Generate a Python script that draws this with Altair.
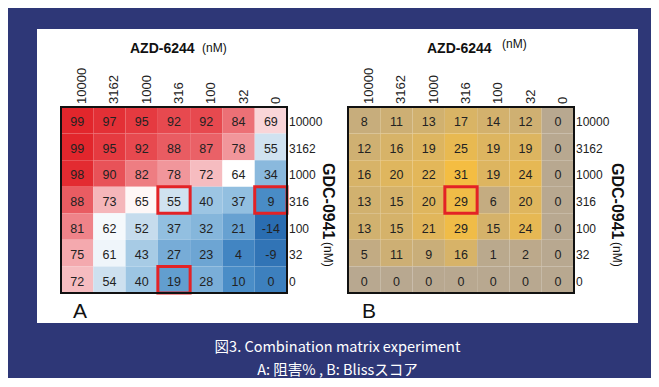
import altair as alt
import pandas as pd

# ---- data ----
azd_doses = ["10000", "3162", "1000", "316", "100", "32", "0"]   # columns (AZD-6244, nM)
gdc_doses = ["10000", "3162", "1000", "316", "100", "32", "0"]   # rows (GDC-0941, nM)

inhibition = [
    [99, 97, 95, 92, 92, 84, 69],
    [99, 95, 92, 88, 87, 78, 55],
    [98, 90, 82, 78, 72, 64, 34],
    [88, 73, 65, 55, 40, 37, 9],
    [81, 62, 52, 37, 32, 21, -14],
    [75, 61, 43, 27, 23, 4, -9],
    [72, 54, 40, 19, 28, 10, 0],
]
bliss = [
    [8, 11, 13, 17, 14, 12, 0],
    [12, 16, 19, 25, 19, 19, 0],
    [16, 20, 22, 31, 19, 24, 0],
    [13, 15, 20, 29, 6, 20, 0],
    [13, 15, 21, 29, 15, 24, 0],
    [5, 11, 9, 16, 1, 2, 0],
    [0, 0, 0, 0, 0, 0, 0],
]
highlight_a = [("316", "316"), ("0", "316"), ("316", "0")]   # (column, row)
highlight_b = [("316", "316")]

x_title = ["AZD-6244", "(nM)"]
y_title = ["GDC-0941", "(nM)"]
panel_letters = ["A", "B"]
caption = ["図3. Combination matrix experiment", "A: 阻害% , B: Blissスコア"]

NAVY = "#2e3777"
FONT = "Liberation Sans"
GRID_TOP, GRID_BOTTOM = 78, 264
PANEL_H = 294


def panel(values, highlights, color_scale, width, x0, x1, letter, letter_x,
          title_x, nm_x, nm_y, right_x):
    df = pd.DataFrame([
        {"col": c, "row": r, "v": values[i][j], "label": str(values[i][j])}
        for i, r in enumerate(gdc_doses) for j, c in enumerate(azd_doses)
    ])
    hl = pd.DataFrame([{"col": c, "row": r} for c, r in highlights])
    xs = alt.X("col:N", sort=azd_doses, axis=None,
               scale=alt.Scale(domain=azd_doses, range=[x0, x1],
                               paddingInner=0, paddingOuter=0))
    ys = alt.Y("row:N", sort=gdc_doses, axis=None,
               scale=alt.Scale(domain=gdc_doses, range=[GRID_TOP, GRID_BOTTOM],
                               paddingInner=0, paddingOuter=0))

    cells = alt.Chart(df).mark_rect().encode(
        x=xs, y=ys, color=alt.Color("v:Q", scale=color_scale, legend=None))
    nums = alt.Chart(df).mark_text(font=FONT, fontSize=12.5, color="#222222", dy=2).encode(
        x=xs, y=ys, text="label:N")
    frame = alt.Chart(df).mark_rect(filled=False, stroke="#111111", strokeWidth=2).encode(
        x=alt.value(x0), x2=alt.value(x1), y=alt.value(GRID_TOP), y2=alt.value(GRID_BOTTOM))
    boxes = alt.Chart(hl).mark_rect(filled=False, stroke="#e32226", strokeWidth=3).encode(
        x=xs, y=ys)
    col_lab = alt.Chart(pd.DataFrame({"col": azd_doses})).mark_text(
        font=FONT, fontSize=13, angle=270, align="left", baseline="middle",
        color="#222222", xOffset=5).encode(
        x=xs, y=alt.value(GRID_TOP - 3), text="col:N")
    row_lab = alt.Chart(pd.DataFrame({"row": gdc_doses})).mark_text(
        font=FONT, fontSize=12, align="left", baseline="middle",
        color="#222222", dy=2).encode(
        y=ys, x=alt.value(x1 + 2), text="row:N")

    t_bold = alt.Chart(pd.DataFrame({"t": [x_title[0]]})).mark_text(
        font=FONT, fontSize=14, fontWeight="bold", align="left",
        baseline="alphabetic", color="#111111").encode(
        x=alt.value(title_x), y=alt.value(24), text="t:N")
    t_nm = alt.Chart(pd.DataFrame({"t": [x_title[1]]})).mark_text(
        font=FONT, fontSize=12, align="left", baseline="alphabetic",
        color="#111111").encode(
        x=alt.value(nm_x), y=alt.value(nm_y), text="t:N")
    r_bold = alt.Chart(pd.DataFrame({"t": [y_title[0]]})).mark_text(
        font=FONT, fontSize=16, fontWeight="bold", angle=90, align="left",
        baseline="middle", color="#111111").encode(
        x=alt.value(right_x), y=alt.value(134), text="t:N")
    r_nm = alt.Chart(pd.DataFrame({"t": [y_title[1]]})).mark_text(
        font=FONT, fontSize=12, angle=90, align="left",
        baseline="middle", color="#111111").encode(
        x=alt.value(right_x), y=alt.value(213), text="t:N")
    let = alt.Chart(pd.DataFrame({"t": [letter]})).mark_text(
        font=FONT, fontSize=21, align="left", baseline="alphabetic",
        color="#111111").encode(
        x=alt.value(letter_x), y=alt.value(289), text="t:N")

    return alt.layer(cells, nums, boxes, frame, col_lab, row_lab,
                     t_bold, t_nm, r_bold, r_nm, let).properties(
        width=width, height=PANEL_H)


scale_a = alt.Scale(
    domain=[-14, 10, 37, 55, 64, 72, 84, 99],
    range=["#2a6db1", "#4a8dc7", "#92bfe0", "#d0e2f0", "#ffffff",
           "#f6bcc0", "#ec7076", "#e2262c"],
    interpolate="rgb")
scale_b = alt.Scale(domain=[0, 31], range=["#b8a890", "#f4bd42"], interpolate="rgb")

pa = panel(inhibition, highlight_a, scale_a, 300, 24, 250, panel_letters[0], 36,
           93, 165, 23, 290.5)
pb = panel(bliss, highlight_b, scale_b, 301, 11, 237, panel_letters[1], 25,
           90, 165, 19, 280)

chart = alt.hconcat(pa, pb, spacing=0).resolve_scale(
    x="independent", y="independent", color="independent"
).properties(
    title=alt.TitleParams(text=caption, orient="bottom", anchor="middle",
                          color="white", font="Noto Sans CJK JP", fontSize=14.5,
                          fontWeight="normal", lineHeight=23, offset=18),
    padding={"left": 29, "top": 21, "right": 13, "bottom": 0},
).configure(background=NAVY).configure_view(fill="white", strokeWidth=0)

chart.save("out.html", embed_options={"renderer": "svg", "actions": False})
